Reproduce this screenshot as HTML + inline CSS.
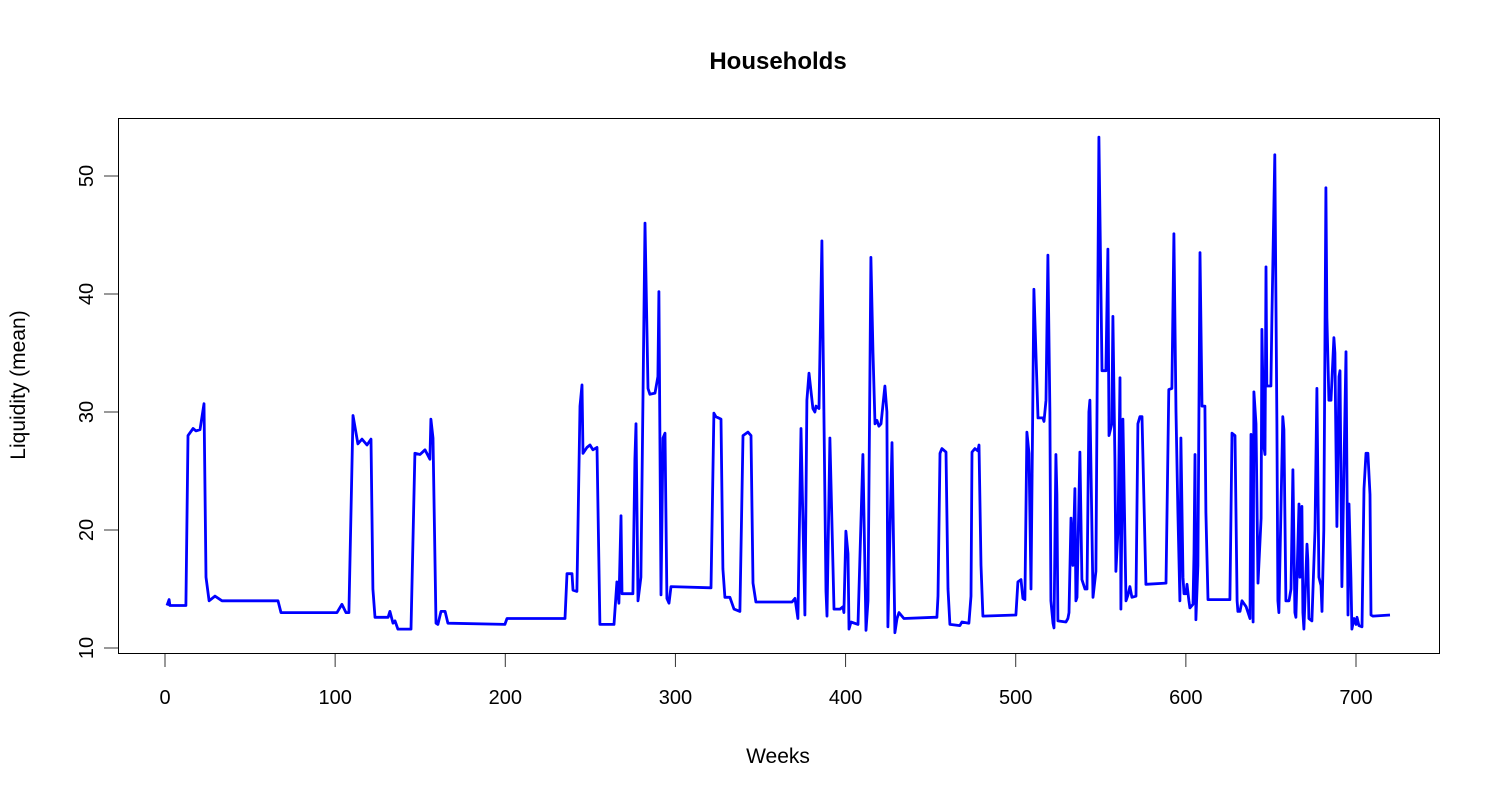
<!DOCTYPE html>
<html><head><meta charset="utf-8"><style>
html,body{margin:0;padding:0;background:#fff;}
svg{display:block;font-family:"Liberation Sans",Arial,sans-serif;}
</style></head><body>
<svg id="chart" width="1500" height="800" viewBox="0 0 1500 800" xmlns="http://www.w3.org/2000/svg">
<rect x="0" y="0" width="1500" height="800" fill="#fff"/>
<text x="778" y="69" text-anchor="middle" font-size="24" font-weight="bold">Households</text>
<text x="778" y="763" text-anchor="middle" font-size="21">Weeks</text>
<text transform="translate(25,385) rotate(-90)" text-anchor="middle" font-size="21">Liquidity (mean)</text>
<rect x="118.5" y="118.5" width="1321" height="535" fill="none" stroke="#000" stroke-width="1"/>
<g id="axes"></g>
<g id="series"></g>
</svg>
<script>
const weeks = [1.2,2.4,2.9,12.3,13.5,16.5,18.2,20.6,22.9,24.1,25.9,29.4,33.5,66.4,68.2,101.1,104,106.4,108.1,110.5,113.4,115.8,118.7,121.1,122.2,123.4,131.1,132.2,134,135.2,136.9,144.6,146.9,149.9,152.8,155.7,156.3,157.5,159.3,160.4,162.2,164.6,166.3,199.8,201,235.1,236.3,239.2,239.8,242.1,243.9,245.1,245.7,248,249.8,251.5,253.9,255.6,263.9,265.6,266.8,268,268.6,275,276.2,276.8,278,279.7,282.1,283.9,285,288,289.7,290.3,291.5,292.7,293.9,295,296.2,297.4,320.9,322.6,323.8,326.8,327.9,329.1,332,334.4,337.9,339.7,342.6,344.4,345.6,347.3,368.5,370.3,372,373.8,376.1,377.3,378.5,380.8,382,382.6,384.4,386.1,387.9,388.5,389.1,390.8,393.2,396.7,398.5,399,400.2,401.4,402,403.2,407.3,410.2,412,413.2,414.9,416.1,417.3,418.4,419.6,420.8,423.1,424.3,424.9,427.3,429,430.2,431.4,434.3,451.9,453.7,454.3,455.5,456.6,459,460.2,461.3,467.2,468.4,472.5,473.7,474.3,476,477.8,478.4,479.6,480.7,500.1,501.3,503.1,504.2,505.4,506.6,507.8,509,510.7,513.1,516,516.6,517.8,518.9,520.1,520.7,521.9,522.5,523.6,524.2,524.8,529.5,530.7,531.3,532.5,533.6,534.8,535.4,536,537.7,538.9,540.7,541.9,543,543.6,545.4,547.1,548.9,550.7,553,554.2,554.8,556.5,557.1,558.3,558.9,560.1,561.3,561.8,563,564.8,566,567.1,568.3,570.7,571.8,573,574.2,576.5,588.3,590,591.8,593,594.2,595.3,596.5,597.1,598.3,598.9,600.1,600.7,601.8,602.4,604.2,604.8,605.4,605.9,607.1,608.3,609.5,611.2,611.8,613,625.9,627.1,628.9,630.1,630.6,631.8,633,635.4,637.7,638.3,639.5,640,641.2,642.4,644.2,644.7,645.9,646.5,647.1,647.6,650,650.6,652.3,653.5,654.1,654.7,657,657.6,658.8,660.6,661.8,662.9,664.1,664.7,666.5,667,668.2,668.8,669.4,671.2,671.7,672.3,674.1,675.9,677,678.2,679.4,680,681.1,682.3,682.9,684.1,685.3,687,687.6,688.8,690,690.6,691.7,694.1,695.3,695.9,697,697.6,698.8,700,700.6,701.7,703.5,704.7,705.9,707,708.2,708.8,710,720];
const liquidity = [13.6,14.1,13.6,13.6,28,28.6,28.4,28.5,30.7,16,14,14.4,14,14,13,13,13.7,13,13,29.7,27.3,27.7,27.2,27.7,15,12.6,12.6,13.1,12.1,12.3,11.6,11.6,26.5,26.4,26.8,26,29.4,27.8,12.1,12,13.1,13.1,12.1,12,12.5,12.5,16.3,16.3,14.9,14.8,30.5,32.3,26.5,27,27.2,26.8,27,12,12,15.6,13.8,21.2,14.6,14.6,26,29,14,16,46,32,31.5,31.6,33,40.2,14.5,27.8,28.2,14.2,13.8,15.2,15.1,29.9,29.6,29.4,16.7,14.3,14.3,13.3,13.1,28,28.3,28,15.5,13.9,13.9,14.2,12.5,28.6,12.8,31,33.3,30.3,30,30.5,30.3,44.5,22,14.8,12.7,27.8,13.3,13.3,13.5,13,19.9,18,11.6,12.2,12,26.4,11.5,14,43.1,35,29,29.3,28.8,29,32.2,30,11.8,27.4,11.3,12.5,13,12.5,12.6,12.6,14.4,26.5,26.9,26.6,15,12,11.9,12.2,12.1,14.4,26.6,26.9,26.7,27.2,17,12.7,12.8,15.6,15.8,14.2,14.1,28.3,26.5,15,40.4,29.5,29.5,29.2,31,43.3,30,14,12.1,11.7,26.4,23,12.3,12.2,12.5,13,21,17,23.5,14,14.3,26.6,15.8,15,15,30,31,14.3,16.5,53.3,33.5,33.5,43.8,28,29,38.1,26,16.5,20,32.9,13.3,29.4,14,14.5,15.2,14.3,14.4,29,29.6,29.6,15.4,15.5,31.9,32,45.1,30,21.5,14,27.8,16,14.6,14.6,15.4,14,13.4,13.7,18,26.4,12.4,17,43.5,30.5,30.5,21.5,14.1,14.1,28.2,28,14,13.1,13.1,14,13.5,12.5,28.1,12.2,31.7,29,15.5,21,37,27,26.4,42.3,32.2,32.2,38,51.8,29,14,13,29.6,28.5,14,14,15,25.1,13,12.6,22.2,16,22,13,11.6,18.8,17.5,12.5,12.3,20,32,16,15.3,13.1,20,49,38,31,31,36.3,35,20.3,33,33.5,15.2,35.1,12.8,22.2,16,11.6,12.5,12,12.6,11.9,11.8,23.5,26.5,26.5,23,12.8,12.7,12.8];
const xTicks = [0,100,200,300,400,500,600,700];
const yTicks = [10,20,30,40,50];

const NS = "http://www.w3.org/2000/svg";
function xs(v){ return 165 + v * (1356 - 165) / 700; }
function ys(v){ return 648 - (v - 10) * (648 - 176) / 40; }
function mk(tag, attrs, parent){
  const el = document.createElementNS(NS, tag);
  for (const k in attrs) el.setAttribute(k, attrs[k]);
  parent.appendChild(el);
  return el;
}
const axes = document.getElementById('axes');
xTicks.forEach(t => {
  const tk = mk('line', {x1: xs(t), x2: xs(t), y1: 654, y2: 667, stroke: '#333'}, axes);
  
  
  const lb = mk('text', {x: xs(t), y: 704, 'text-anchor': 'middle', 'font-size': 20}, axes);
  lb.textContent = t;
  
  
});
yTicks.forEach(t => {
  const tk = mk('line', {x1: 104, x2: 118, y1: ys(t), y2: ys(t), stroke: '#333'}, axes);
  
  
  const lb = mk('text', {transform: 'translate(93,' + ys(t) + ') rotate(-90)', 'text-anchor': 'middle', 'font-size': 20}, axes);
  lb.textContent = t;
  
  
});
const series = document.getElementById('series');
const pts = weeks.map((w, i) => xs(w).toFixed(1) + ',' + ys(liquidity[i]).toFixed(1)).join(' ');
const line = mk('polyline', {points: pts, fill: 'none', stroke: '#0000ff', 'stroke-width': 2.8, 'stroke-linejoin': 'round'}, series);


</script>
</body></html>
